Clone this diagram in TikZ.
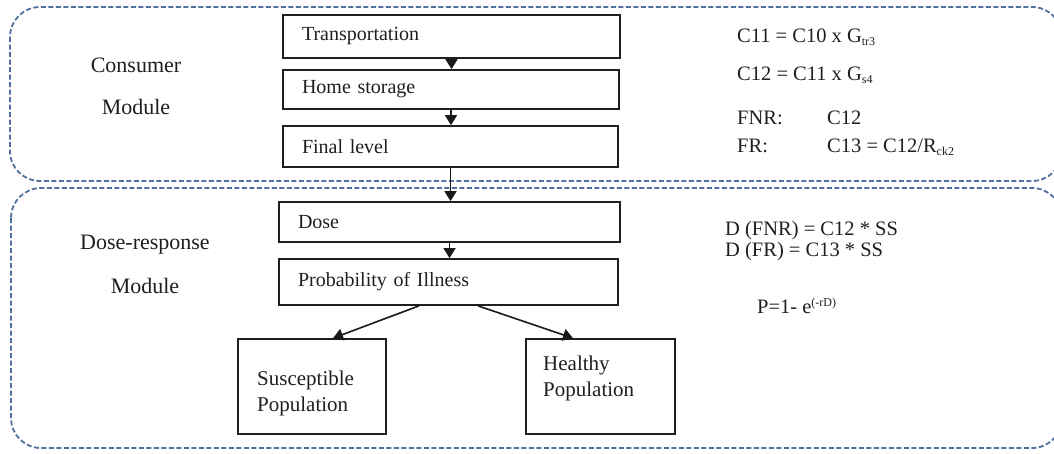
\documentclass[tikz,border=0pt]{standalone}
\usepackage{fontspec}
\setmainfont{Liberation Serif}
\usetikzlibrary{arrows.meta,calc}
\definecolor{dashblue}{RGB}{80,112,160}
\definecolor{txt}{RGB}{30,30,30}
\newcommand{\lowsub}[1]{\raisebox{-3pt}{\fontsize{12}{12}\selectfont #1}}
\newcommand{\highsup}[1]{\raisebox{7pt}{\fontsize{12}{12}\selectfont #1}}
\begin{document}
\begin{tikzpicture}[x=1pt,y=-1pt,
  module/.style={draw=dashblue, line width=1.8pt, dash pattern=on 5pt off 2.5pt, rounded corners=30pt},
  stepbox/.style={draw=black!88, line width=1.7pt, rectangle, inner xsep=19pt, inner ysep=0pt,
    align=left, font=\fontsize{20}{24}\selectfont, text=txt},
  popbox/.style={draw=black!88, line width=1.7pt, rectangle, inner sep=0pt},
  lbl/.style={font=\fontsize{22}{26}\selectfont, text=txt, inner sep=0pt},
  eqn/.style={font=\fontsize{20.5}{24}\selectfont, text=txt, inner sep=0pt, anchor=base west},
  popt/.style={font=\fontsize{21}{24}\selectfont, text=txt, inner sep=0pt, anchor=base west},
  arr/.style={-{Triangle[length=10pt,width=12pt]}, line width=1.6pt, draw=black!90}]
\useasboundingbox (0,0) rectangle (1054,453);
\begin{scope}
\clip (0,0) rectangle (1054,453);
\draw[module] (10,7) rectangle (1062,181);
\draw[module] (11,188) rectangle (1062,448);
\end{scope}

% module labels
\node[lbl] (cm1) at (136,65) {Consumer};
\node[lbl] (cm2) at (136,107) {Module};
\node[lbl] (dm1) at (145,245) {Dose-response};
\node[lbl] (dm2) at (145,286) {Module};

% step boxes
\node[stepbox, text width=299pt, minimum height=43pt] (tr) at (451.5,36.5) {Transportation};
\node[stepbox, text width=298pt, minimum height=39pt] (hs) at (451,89.5) {Home storage};
\node[stepbox, text width=297pt, minimum height=41pt] (fl) at (450.5,146.5) {Final level};
\node[stepbox, text width=303pt, minimum height=40pt] (ds) at (449.5,222) {Dose};
\node[stepbox, text width=301pt, minimum height=46pt] (pr) at (448.5,282) {Probability of Illness};

\node[popbox, minimum width=148pt, minimum height=95pt] (sp) at (312,386.5) {};
\node[popbox, minimum width=149pt, minimum height=95pt] (hp) at (600.5,386.5) {};
\node[popt] (sp1) at (257,385) {Susceptible};
\node[popt] (sp2) at (257,411) {Population};
\node[popt] (hp1) at (543,370) {Healthy};
\node[popt] (hp2) at (543,396) {Population};

% connectors
\draw[arr] (tr.south) -- (tr.south |- hs.north);
\draw[arr] (hs.south) -- (hs.south |- fl.north);
\draw[arr] (fl.south) -- (fl.south |- ds.north);
\draw[arr] (ds.south) -- (ds.south |- pr.north);
\draw[arr] ([xshift=-29.5pt]pr.south) -- ([xshift=21pt]sp.north);
\draw[arr] ([xshift=29.5pt]pr.south) -- ([xshift=-27.5pt]hp.north);

% formulas
\node[eqn] (e1) at (737,42) {C11 = C10 x G\lowsub{tr3}};
\node[eqn] (e2) at (737,80) {C12 = C11 x G\lowsub{s4}};
\node[eqn] (e3) at (737,124) {FNR:};
\node[eqn] (e3b) at (827,124) {C12};
\node[eqn] (e4) at (737,152) {FR:};
\node[eqn] (e4b) at (827,152) {C13 = C12/R\lowsub{ck2}};
\node[eqn] (e5) at (725,235) {D (FNR) = C12 * SS};
\node[eqn] (e6) at (725,256) {D (FR) = C13 * SS};
\node[eqn] (e7) at (757,313) {P=1- e\highsup{(-rD)}};
\end{tikzpicture}
\end{document}
